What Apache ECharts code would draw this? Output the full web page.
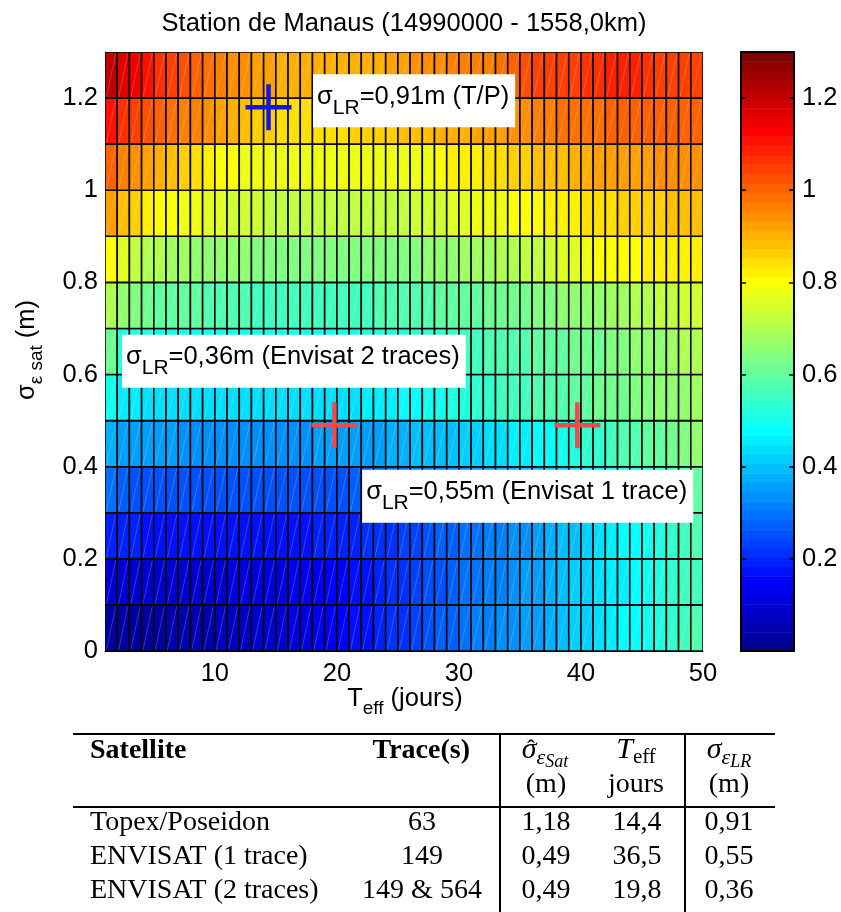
<!DOCTYPE html>
<html><head><meta charset="utf-8">
<script src="https://cdn.jsdelivr.net/npm/echarts@6/dist/echarts.min.js"></script>
<style>html,body{margin:0;padding:0;background:#fff}#c{width:841px;height:912px}</style>
</head><body><div id="c"></div>
<script>
// ---- data ----
const teff = [1,2,3,4,5,6,7,8,9,10,11,12,13,14,15,16,17,18,19,20,21,22,23,24,25,26,27,28,29,30,31,32,33,34,35,36,37,38,39,40,41,42,43,44,45,46,47,48,49];
const sat = [0,0.1,0.2,0.3,0.4,0.5,0.6,0.7,0.8,0.9,1.0,1.1,1.2];
const row00 = [.03,.03,.03,.04,.04,.05,.05,.06,.06,.07,.07,.08,.09,.09,.10,.11,.12,.13,.14,.15,.17,.18,.19,.21,.22,.23,.25,.27,.28,.30,.31,.32,.33,.34,.35,.36,.38,.39,.41,.42,.44,.45,.47,.48,.50,.52,.53,.55,.57];
const row01 = [.10,.09,.09,.09,.09,.09,.10,.10,.10,.10,.11,.11,.11,.12,.12,.13,.13,.14,.15,.16,.17,.18,.19,.21,.22,.23,.25,.26,.28,.29,.30,.31,.32,.34,.35,.36,.38,.39,.41,.42,.44,.45,.46,.48,.50,.51,.53,.55,.56];
const row02 = [.20,.19,.19,.18,.18,.18,.18,.18,.18,.18,.18,.18,.18,.18,.18,.18,.18,.19,.19,.19,.20,.21,.22,.22,.23,.24,.25,.27,.28,.29,.30,.31,.32,.33,.34,.36,.37,.39,.40,.42,.44,.45,.47,.48,.50,.52,.54,.55,.57];
const row03 = [.29,.27,.26,.26,.26,.26,.26,.26,.26,.25,.25,.25,.25,.25,.25,.25,.25,.26,.26,.26,.27,.28,.28,.29,.30,.31,.31,.32,.33,.34,.35,.36,.37,.38,.39,.40,.41,.42,.43,.45,.46,.47,.49,.50,.52,.54,.56,.58,.60];
const row04 = [.38,.36,.35,.35,.35,.35,.34,.34,.34,.34,.34,.34,.34,.34,.34,.34,.34,.35,.35,.35,.35,.36,.36,.37,.38,.39,.39,.40,.40,.41,.42,.43,.44,.45,.46,.47,.48,.50,.51,.53,.54,.55,.57,.58,.59,.60,.62,.63,.65];
const row05 = [.49,.46,.45,.44,.43,.43,.43,.43,.43,.43,.43,.43,.43,.43,.43,.43,.43,.43,.43,.44,.44,.45,.45,.46,.47,.48,.49,.50,.51,.52,.53,.54,.55,.55,.56,.57,.58,.58,.59,.60,.61,.62,.62,.63,.64,.65,.66,.67,.68];
const row06 = [.62,.52,.51,.51,.50,.50,.50,.50,.50,.50,.50,.50,.50,.50,.50,.50,.50,.50,.50,.50,.50,.51,.51,.52,.52,.53,.54,.54,.55,.56,.56,.57,.57,.58,.58,.59,.59,.60,.61,.61,.62,.63,.64,.65,.66,.67,.68,.70,.70];
const row07 = [.71,.65,.63,.62,.60,.60,.59,.59,.58,.57,.57,.57,.56,.56,.56,.56,.56,.56,.56,.56,.56,.56,.57,.57,.57,.58,.58,.59,.59,.60,.60,.61,.61,.62,.62,.63,.64,.65,.66,.67,.67,.68,.69,.70,.71,.72,.73,.75,.75];
const row08 = [.81,.77,.73,.71,.70,.69,.68,.67,.66,.66,.65,.65,.64,.64,.64,.63,.63,.63,.63,.63,.63,.63,.63,.63,.63,.64,.65,.66,.67,.68,.69,.69,.70,.71,.72,.73,.74,.76,.77,.78,.80,.80,.81,.81,.82,.82,.83,.82,.83];
const row09 = [.92,.88,.86,.83,.81,.80,.79,.79,.77,.76,.75,.74,.74,.73,.72,.72,.72,.72,.72,.72,.72,.72,.72,.73,.73,.74,.75,.75,.76,.77,.78,.78,.79,.80,.80,.81,.82,.83,.83,.84,.85,.85,.86,.86,.87,.87,.88,.88,.88];
const row10 = [1.00,.97,.95,.93,.91,.89,.86,.84,.82,.80,.80,.79,.79,.79,.79,.79,.79,.79,.79,.79,.79,.79,.79,.79,.79,.79,.79,.81,.82,.83,.83,.84,.845,.86,.87,.88,.88,.89,.90,.91,.92,.92,.93,.93,.93,.94,.94,.94,.94];
const row11 = [1.11,1.07,1.04,1.02,1.00,.99,.975,.96,.94,.92,.90,.89,.87,.86,.85,.85,.85,.85,.85,.85,.86,.86,.87,.87,.88,.89,.89,.90,.90,.91,.92,.92,.93,.94,.95,.96,.97,.98,.98,.99,.99,1.00,1.00,1.00,1.00,1.00,1.00,1.00,1.00];
const row12 = [1.20,1.17,1.14,1.10,1.07,1.05,1.03,1.01,.99,.97,.95,.94,.93,.92,.91,.91,.91,.90,.90,.90,.90,.91,.91,.92,.93,.94,.94,.95,.96,.96,.97,.97,.98,1.00,1.03,1.04,1.04,1.05,1.05,1.06,1.07,1.08,1.08,1.08,1.06,1.05,1.05,1.05,1.05];

const xTicks = [10,20,30,40,50];
const yTicks = [0,0.2,0.4,0.6,0.8,1,1.2];
const cbTicks = [0.2,0.4,0.6,0.8,1,1.2];

// markers (T_eff, sigma_sat)
const crossTP = [[14.4,1.18]];
const crossEnv = [[19.8,0.49],[39.7,0.49]];
// annotation boxes
const annoPos = [[18.05,1.194],[2.39,0.629],[22.07,0.336]];
const annoVal = ['0,91m (T/P)','0,36m (Envisat 2 traces)','0,55m (Envisat 1 trace)'];

// table
const tblNames = ['Topex/Poseidon','ENVISAT (1 trace)','ENVISAT (2 traces)'];
const tblTraces = ['63','149','149 & 564'];
const tblSig = ['1,18','0,49','0,49'];
const tblTeff = ['14,4','36,5','19,8'];
const tblLR = ['0,91','0,55','0,36'];

// ---- helpers ----
const SANS = "'Liberation Sans', Arial, Helvetica, sans-serif";
const SERIF = "'Liberation Serif', 'Times New Roman', serif";
function jetMap(m){
  const n=Math.ceil(m/4), u=[];
  for(let i=1;i<=n;i++)u.push(i/n);
  for(let i=0;i<n-1;i++)u.push(1);
  for(let i=n;i>=1;i--)u.push(i/n);
  const J=Array.from({length:m},()=>[0,0,0]);
  const off=Math.ceil(n/2)-(m%4===1?1:0);
  for(let k=0;k<u.length;k++){
    const g=off+k+1, r=g+n, b=g-n;
    if(g>=1&&g<=m)J[g-1][1]=u[k];
    if(r>=1&&r<=m)J[r-1][0]=u[k];
    if(b>=1&&b<=m)J[b-1][2]=u[k];
  }
  return J.map(c=>'rgb('+Math.round(c[0]*255)+','+Math.round(c[1]*255)+','+Math.round(c[2]*255)+')');
}
// rich token: font size, text-centre offset from line top, total line height
function tk(family, size, centre, L, extra){
  const pt = centre - size/2;
  return Object.assign({fontFamily:family, fontSize:size, height:size, padding:[pt,0,L-size-pt,0], color:'#000'}, extra||{});
}

const CMIN=0, CMAX=1.3, NLEV=64;
const jet = jetMap(NLEV);
const pieces = jet.map((col,k)=>{
  const p={gte:CMIN+k*(CMAX-CMIN)/NLEV, color:col};
  if(k<NLEV-1)p.lt=CMIN+(k+1)*(CMAX-CMIN)/NLEV; else p.lte=CMAX+1;
  return p;
});

const rows=[row00,row01,row02,row03,row04,row05,row06,row07,row08,row09,row10,row11,row12];
const cellData=[];
rows.forEach((row,r)=>row.forEach((v,c)=>cellData.push([teff[c],sat[r],v])));
const dT=teff[1]-teff[0], dS=sat[1]-sat[0];
const cbData=jet.map((c,k)=>[k]);

const Lb=36;
const richLabel={
  m:tk(SANS,25.5,14,Lb),
  s:tk(SANS,21,25.3,Lb)
};

const chart=echarts.init(document.getElementById('c'),null,{renderer:'canvas'});

const graphics=[];
graphics.push({type:'text',x:404,y:24,style:{text:'Station de Manaus (14990000 - 1558,0km)',fontFamily:SANS,fontSize:25.5,fill:'#000',align:'center',verticalAlign:'middle'}});
const Lx=34;
graphics.push({type:'text',x:405,y:699+Lx/2-14,style:{text:'{m|T}{s|eff}{m| (jours)}',align:'center',verticalAlign:'middle',
  rich:{m:tk(SANS,25.5,14,Lx),s:tk(SANS,19,24,Lx)}}});
graphics.push({type:'text',x:27+(Lx/2-14),y:350,rotation:Math.PI/2,style:{text:'{m|σ}{s|ε sat}{m| (m)}',align:'center',verticalAlign:'middle',
  rich:{m:tk(SANS,25.5,14,Lx),s:tk(SANS,19,24,Lx)}}});

const ln=(x1,y1,x2,y2)=>({type:'line',shape:{x1,y1,x2,y2},style:{stroke:'#000',lineWidth:2}});
graphics.push(ln(73,734,775,734),ln(73,807,775,807),ln(500,734,500,912),ln(685,734,685,912));
const tx=(x,y,text,align,bold)=>({type:'text',x,y,style:{text,fontFamily:SERIF,fontSize:28,fontWeight:bold?'bold':'normal',fill:'#000',align,verticalAlign:'middle'}});
graphics.push(tx(90,751,'Satellite','left',true));
graphics.push(tx(470,751,'Trace(s)','right',true));
const Lt=36;
const itl={fontStyle:'italic'};
graphics.push({type:'text',x:545,y:750.5+Lt/2-15,style:{text:'{a|σ}{b|ε}{c|Sat}',align:'center',verticalAlign:'middle',
  rich:{a:tk(SERIF,30,15,Lt,itl),b:tk(SERIF,22,23,Lt,itl),c:tk(SERIF,18,27,Lt,itl)}}});
graphics.push({type:'text',x:531,y:750,style:{text:'ˆ',fontFamily:SERIF,fontSize:24,fill:'#000',align:'center',verticalAlign:'middle'}});
graphics.push({type:'text',x:636,y:750.5+Lt/2-15,style:{text:'{a|T}{b|eff}',align:'center',verticalAlign:'middle',
  rich:{a:tk(SERIF,30,15,Lt,itl),b:tk(SERIF,21,22,Lt)}}});
graphics.push({type:'text',x:729,y:750.5+Lt/2-15,style:{text:'{a|σ}{b|ε}{c|LR}',align:'center',verticalAlign:'middle',
  rich:{a:tk(SERIF,30,15,Lt,itl),b:tk(SERIF,22,23,Lt,itl),c:tk(SERIF,18,27,Lt,itl)}}});
graphics.push(tx(546,785,'(m)','center'),tx(636,785,'jours','center'),tx(729,785,'(m)','center'));
const rowY=[822.5,856.5,890.5];
tblNames.forEach((n,i)=>{
  graphics.push(tx(90,rowY[i],n,'left'));
  graphics.push(tx(422,rowY[i],tblTraces[i],'center'));
  graphics.push(tx(546,rowY[i],tblSig[i],'center'));
  graphics.push(tx(637,rowY[i],tblTeff[i],'center'));
  graphics.push(tx(729,rowY[i],tblLR[i],'center'));
});

const crossPath='path://M-2.25,-23h4.5v20.75h20.75v4.5h-20.75v20.75h-4.5v-20.75h-20.75v-4.5h20.75z';

chart.setOption({
  animation:false,
  backgroundColor:'#fff',
  grid:[
    {left:105,top:52,width:598,height:599},
    {left:741,top:52,width:53,height:599}
  ],
  xAxis:[
    {gridIndex:0,type:'value',min:1,max:50,axisLine:{show:true,lineStyle:{color:'#000',width:1}},axisTick:{show:false},splitLine:{show:false},
     axisLabel:{customValues:xTicks,fontSize:25.5,fontFamily:SANS,color:'#000',margin:10}},
    {gridIndex:1,type:'value',min:0,max:1,position:'bottom',z:5,axisLine:{show:true,onZero:false,lineStyle:{color:'#000',width:2}},axisTick:{show:false},axisLabel:{show:false},splitLine:{show:false}},
    {gridIndex:1,type:'value',min:0,max:1,position:'top',z:5,axisLine:{show:true,onZero:false,lineStyle:{color:'#000',width:2}},axisTick:{show:false},axisLabel:{show:false},splitLine:{show:false}}
  ],
  yAxis:[
    {gridIndex:0,type:'value',min:0,max:1.3,axisLine:{show:true,lineStyle:{color:'#000',width:1}},axisTick:{show:false},splitLine:{show:false},
     axisLabel:{customValues:yTicks,fontSize:25.5,fontFamily:SANS,color:'#000',margin:7}},
    {gridIndex:1,type:'value',min:0,max:1.3,position:'right',z:5,axisLine:{show:true,onZero:false,lineStyle:{color:'#000',width:2}},
     axisTick:{show:true,inside:true,length:5,customValues:cbTicks,lineStyle:{color:'#000',width:1.5}},splitLine:{show:false},
     axisLabel:{customValues:cbTicks,fontSize:25.5,fontFamily:SANS,color:'#000',margin:8}},
    {gridIndex:1,type:'value',min:0,max:1.3,position:'left',z:5,axisLine:{show:true,onZero:false,lineStyle:{color:'#000',width:2}},
     axisTick:{show:true,inside:true,length:5,customValues:cbTicks,lineStyle:{color:'#000',width:1.5}},splitLine:{show:false},axisLabel:{show:false}}
  ],
  visualMap:{type:'piecewise',show:false,seriesIndex:0,dimension:2,pieces:pieces},
  graphic:graphics,
  series:[
    {type:'custom',xAxisIndex:0,yAxisIndex:0,data:cellData,clip:true,
     renderItem:(params,api)=>{
       const x=api.value(0), y=api.value(1);
       const p0=api.coord([x,y]), p1=api.coord([x+dT,y+dS]);
       const col=api.visual('color');
       return {type:'group',children:[
         {type:'rect',shape:{x:p0[0],y:p1[1],width:p1[0]-p0[0],height:p0[1]-p1[1]},style:{fill:col,stroke:'#0a0a0a',lineWidth:1.6}},
         {type:'line',shape:{x1:p0[0]+1.5,y1:p0[1]-1.5,x2:p1[0]-1.5,y2:p1[1]+1.5},style:{stroke:'rgba(255,255,255,0.3)',lineWidth:0.7}}
       ]};
     }},
    {type:'custom',xAxisIndex:1,yAxisIndex:1,data:cbData,
     renderItem:(params,api)=>{
       const k=api.value(0);
       const lo=CMIN+k*(CMAX-CMIN)/NLEV, hi=CMIN+(k+1)*(CMAX-CMIN)/NLEV;
       const a=api.coord([0,lo]), b=api.coord([1,hi]);
       return {type:'rect',shape:{x:a[0],y:b[1],width:b[0]-a[0],height:a[1]-b[1]+0.5},style:{fill:jet[k]}};
     }},
    {type:'scatter',xAxisIndex:0,yAxisIndex:0,data:crossTP,symbol:crossPath,symbolSize:46,itemStyle:{color:'#1414e6',opacity:1},z:6,silent:true},
    {type:'scatter',xAxisIndex:0,yAxisIndex:0,data:crossEnv,symbol:crossPath,symbolSize:46,itemStyle:{color:'#f04b4b',opacity:1},z:6,silent:true},
    {type:'scatter',xAxisIndex:0,yAxisIndex:0,z:8,silent:true,symbolSize:0,itemStyle:{opacity:1},
     data:annoPos.map((p,i)=>({value:p,txt:annoVal[i]})),
     label:{show:true,position:'right',distance:0,backgroundColor:'#fff',opacity:1,padding:[8.5,6,8.5,4],
       formatter:(p)=>'{m|σ}{s|LR}{m|='+p.data.txt+'}',rich:richLabel}}
  ]
});
</script></body></html>
